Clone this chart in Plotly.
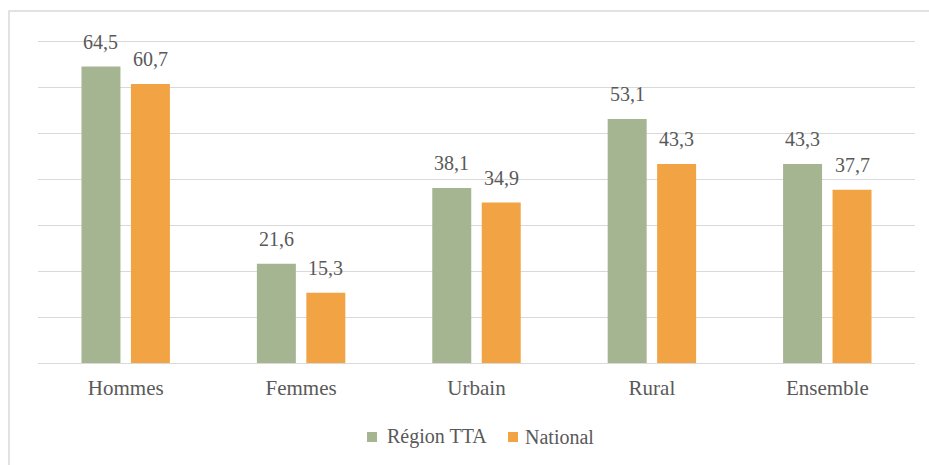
import plotly.graph_objects as go

categories = ["Hommes", "Femmes", "Urbain", "Rural", "Ensemble"]
region_tta = [64.5, 21.6, 38.1, 53.1, 43.3]
national = [60.7, 15.3, 34.9, 43.3, 37.7]
series_names = ["Région TTA", "National"]
colors = ["#A5B592", "#F2A445"]

def fr(v):
    return f"{v:.1f}".replace(".", ",")

FONT = "Liberation Serif"
GREY = "#595959"
FS = 20

fig = go.Figure()
for name, vals, col in zip(series_names, (region_tta, national), colors):
    fig.add_trace(go.Bar(name=name, x=categories, y=vals,
                         marker=dict(color=col, line=dict(width=0))))

annotations = []
for vals, dx in ((region_tta, -24.75), (national, 24.75)):
    for c, v in zip(categories, vals):
        annotations.append(dict(x=c, y=v, xref="x", yref="y", text=fr(v),
                                showarrow=False, xshift=dx, yanchor="bottom",
                                yshift=12, font=dict(family=FONT, size=FS, color=GREY)))

# custom legend (paper coords: x=(px-38)/877, y=(363-py)/324)
shapes = [dict(type="rect", xref="paper", yref="paper",
               x0=-29/877, x1=1 + 30/877, y0=-150/324, y1=1 + 28/324,
               line=dict(color="#D9D9D9", width=1.5), fillcolor="rgba(0,0,0,0)",
               layer="below")]
legend_x = [(367, 385), (508, 523)]
for (sx, tx), name, col in zip(legend_x, series_names, colors):
    shapes.append(dict(type="rect", xref="paper", yref="paper",
                       x0=(sx - 38) / 877, x1=(sx + 10 - 38) / 877,
                       y0=(363 - 442) / 324, y1=(363 - 432) / 324,
                       line=dict(width=0), fillcolor=col))
    annotations.append(dict(x=(tx - 38) / 877, y=(363 - 437) / 324, xref="paper", yref="paper",
                            text=name, showarrow=False, xanchor="left", yanchor="middle",
                            font=dict(family=FONT, size=FS, color=GREY)))

fig.update_layout(
    width=929, height=465,
    margin=dict(l=38, r=14, t=39, b=102),
    paper_bgcolor="white", plot_bgcolor="white",
    barmode="group", bargap=0.436, bargroupgap=0.212,
    font=dict(family=FONT, size=FS, color=GREY),
    showlegend=False,
    xaxis=dict(showgrid=False, showline=True, linecolor="#D9D9D9", linewidth=1,
               ticks="", ticklabelstandoff=6,
               tickfont=dict(family=FONT, size=21, color=GREY)),
    yaxis=dict(range=[0, 70.5], dtick=10, showgrid=True, gridcolor="#D9D9D9",
               gridwidth=1, showticklabels=False, zeroline=False, showline=False),
    annotations=annotations,
    shapes=shapes,
)

fig.write_html("out.html", config={"displayModeBar": False},
               post_script="document.body.style.margin='0';document.body.style.overflow='hidden';")
